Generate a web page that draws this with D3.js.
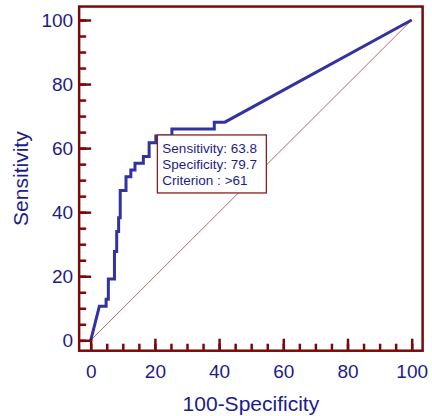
<!DOCTYPE html>
<html>
<head>
<meta charset="utf-8">
<script src="https://cdn.jsdelivr.net/npm/d3@7"></script>
<style>
  body { margin: 0; background: #fff; }
  text { font-family: "Liberation Sans", Arial, sans-serif; }
</style>
</head>
<body>
<div id="chart"></div>
<script>
// ROC curve points (100-Specificity, Sensitivity)
const fpr = [0, 2.7, 4.8, 4.8, 5.5, 5.5, 7.4, 7.4, 8.1, 8.1, 8.7, 8.7, 9.2, 9.2, 11.0, 11.0, 12.5, 12.5, 13.8, 13.8, 16.4, 16.4, 18.2, 18.2, 20.3, 20.3, 25.3, 25.3, 38.5, 38.5, 41.8, 100];
const tpr = [0, 10.6, 10.6, 12.8, 12.8, 19.1, 19.1, 27.7, 27.7, 34.0, 34.0, 38.3, 38.3, 46.8, 46.8, 51.1, 51.1, 53.2, 53.2, 55.3, 55.3, 57.4, 57.4, 61.7, 61.7, 63.8, 63.8, 66.0, 66.0, 68.1, 68.1, 100];
const tickValues = [0, 20, 40, 60, 80, 100];
const criterion = { fpr: 20.3, tpr: 63.8 };
const infoLines = ["Sensitivity: 63.8", "Specificity: 79.7", "Criterion : >61"];

const W = 432, H = 416;
const navy = "#1c1c8a", frameCol = "#7a0a0a", curveCol = "#3232a0";

const svg = d3.select("#chart").append("svg")
    .attr("width", W)
    .attr("height", H);

const x = d3.scaleLinear().domain([0, 100]).range([90.7, 411.7]);
const y = d3.scaleLinear().domain([0, 100]).range([340.3, 20]);

const fLeft = x(-3.6), fRight = x(103.4), fTop = y(104.2), fBottom = y(-3.25);

// diagonal reference line
svg.append("line")
    .attr("x1", x(0)).attr("y1", y(0))
    .attr("x2", x(100)).attr("y2", y(100))
    .attr("stroke", "#b86a6a")
    .attr("stroke-width", 1);

// ROC curve
const pts = fpr.map((v, i) => [v, tpr[i]]);
svg.append("path")
    .datum(pts)
    .attr("d", d3.line().x(d => x(d[0])).y(d => y(d[1])))
    .attr("fill", "none")
    .attr("stroke", curveCol)
    .attr("stroke-width", 3)
    .attr("stroke-linejoin", "miter");

// frame
svg.append("rect")
    .attr("x", fLeft).attr("y", fTop)
    .attr("width", fRight - fLeft).attr("height", fBottom - fTop)
    .attr("fill", "none")
    .attr("stroke", frameCol)
    .attr("stroke-width", 2.5);

// minor ticks
const minor = d3.range(0, 101, 5);
svg.append("g")
    .attr("transform", "translate(" + fLeft + ",0)")
    .call(d3.axisLeft(y).tickValues(minor).tickSize(-7).tickFormat(""))
    .call(g => g.select(".domain").remove())
    .call(g => g.selectAll("line").attr("stroke", frameCol).attr("stroke-width", 2.5));
svg.append("g")
    .attr("transform", "translate(0," + fBottom + ")")
    .call(d3.axisBottom(x).tickValues(minor).tickSize(-7).tickFormat(""))
    .call(g => g.select(".domain").remove())
    .call(g => g.selectAll("line").attr("stroke", frameCol).attr("stroke-width", 2.5));

// major ticks + labels
svg.append("g")
    .attr("transform", "translate(" + fLeft + ",0)")
    .call(d3.axisLeft(y).tickValues(tickValues).tickSize(-12).tickPadding(6))
    .call(g => g.select(".domain").remove())
    .call(g => g.selectAll("line").attr("stroke", frameCol).attr("stroke-width", 2.5))
    .call(g => g.selectAll("text").attr("fill", navy).style("font-size", "19px")
        .style("font-family", "'Liberation Sans', Arial, sans-serif"));
svg.append("g")
    .attr("transform", "translate(0," + fBottom + ")")
    .call(d3.axisBottom(x).tickValues(tickValues).tickSize(-12).tickPadding(14))
    .call(g => g.select(".domain").remove())
    .call(g => g.selectAll("line").attr("stroke", frameCol).attr("stroke-width", 2.5))
    .call(g => g.selectAll("text").attr("fill", navy).style("font-size", "19px")
        .style("font-family", "'Liberation Sans', Arial, sans-serif"));

// axis titles
svg.append("text")
    .attr("x", (fLeft + fRight) / 2)
    .attr("y", 411)
    .attr("text-anchor", "middle")
    .attr("fill", navy)
    .style("font-size", "21px")
    .text("100-Specificity");

svg.append("text")
    .attr("transform", "translate(28," + (fTop + fBottom) / 2 + ") rotate(-90)")
    .attr("text-anchor", "middle")
    .attr("fill", navy)
    .style("font-size", "21px")
    .text("Sensitivity");

// criterion info box
const bx = x(criterion.fpr) + 1.5, by = y(criterion.tpr) - 1;
svg.append("rect")
    .attr("x", bx).attr("y", by)
    .attr("width", 109).attr("height", 58)
    .attr("fill", "#fff")
    .attr("stroke", "#8a1f1f")
    .attr("stroke-width", 1.3);

svg.selectAll(".info")
    .data(infoLines)
    .enter().append("text")
    .attr("x", bx + 5)
    .attr("y", (d, i) => by + 18 + i * 15.8)
    .attr("fill", navy)
    .style("font-size", "13.5px")
    .text(d => d);
</script>
</body>
</html>
